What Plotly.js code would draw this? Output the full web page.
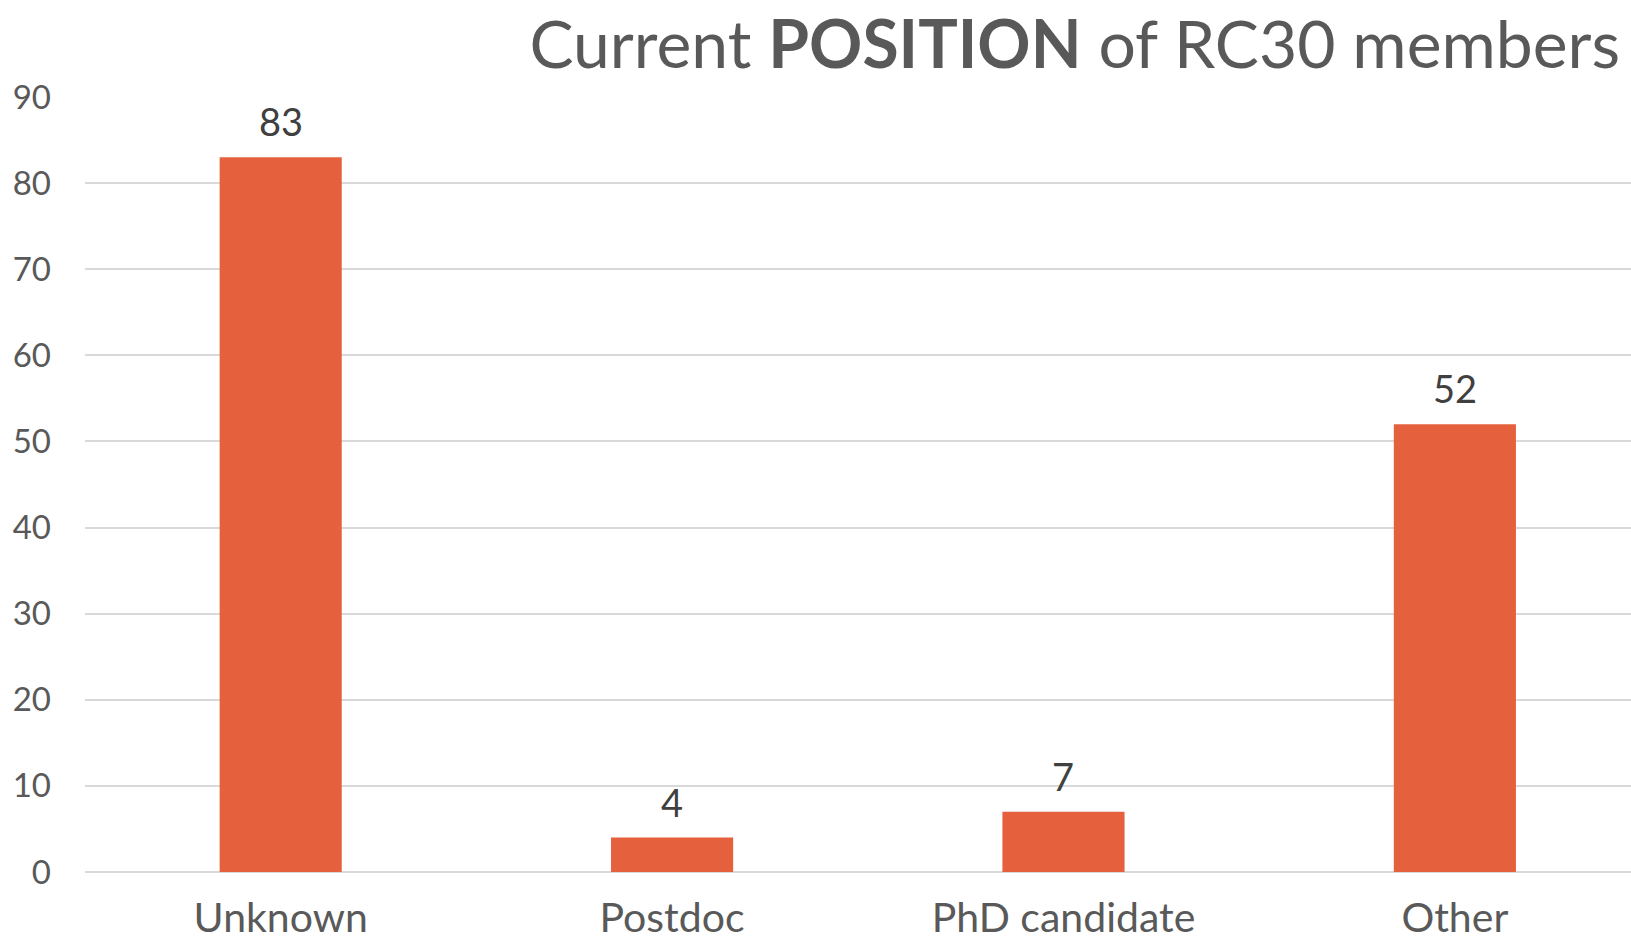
<!DOCTYPE html>
<html>
<head>
<meta charset="utf-8">
<script src="https://cdn.plot.ly/plotly-3.0.1.min.js"></script>
<style>html,body{margin:0;padding:0;background:#fff;}#chart{width:1631px;height:943px;}</style>
</head>
<body>
<div id="chart"></div>
<script>
const categories = ["Unknown", "Postdoc", "PhD candidate", "Other"];
const counts = [83, 4, 7, 52];
const yTicks = [0, 10, 20, 30, 40, 50, 60, 70, 80, 90];

const FONT = "Lato, 'Open Sans', sans-serif";

const trace = {
  type: "bar",
  x: categories,
  y: counts,
  width: 0.312,
  marker: { color: "#E5603D", line: { width: 0 } },
  cliponaxis: false,
  hoverinfo: "none"
};

const annotations = categories.map((c, i) => ({
  x: c,
  y: counts[i],
  xref: "x",
  yref: "y",
  text: String(counts[i]),
  showarrow: false,
  yanchor: "bottom",
  yshift: 11,
  font: { family: FONT, size: 38, color: "#404040" }
}));

const layout = {
  width: 1631,
  height: 943,
  margin: { l: 85, r: 0, t: 97, b: 71, pad: 0 },
  paper_bgcolor: "#ffffff",
  plot_bgcolor: "#ffffff",
  showlegend: false,
  font: { family: FONT, color: "#595959" },
  title: {
    text: "Current <b>POSITION</b> of RC30 members",
    font: { family: FONT, size: 66, color: "#595959" },
    xref: "container", x: 1620 / 1631, xanchor: "right",
    yref: "container", y: 1 - 45 / 943, yanchor: "middle"
  },
  xaxis: {
    type: "category",
    range: [-0.5, 3.45],
    showgrid: false,
    showline: false,
    zeroline: false,
    ticks: "",
    tickfont: { family: FONT, size: 41, color: "#595959" },
    ticklabelstandoff: 18
  },
  yaxis: {
    range: [0, 90],
    tickvals: yTicks,
    ticktext: yTicks.map(String),
    showgrid: true,
    gridcolor: "#D9D9D9",
    gridwidth: 2,
    zeroline: true,
    zerolinecolor: "#D9D9D9",
    zerolinewidth: 2,
    showline: false,
    ticks: "",
    tickfont: { family: FONT, size: 33, color: "#595959" },
    ticklabelstandoff: 33
  },
  annotations: annotations,
  bargap: 0.688
};

Plotly.newPlot("chart", [trace], layout, { staticPlot: true, displayModeBar: false });
</script>
</body>
</html>
